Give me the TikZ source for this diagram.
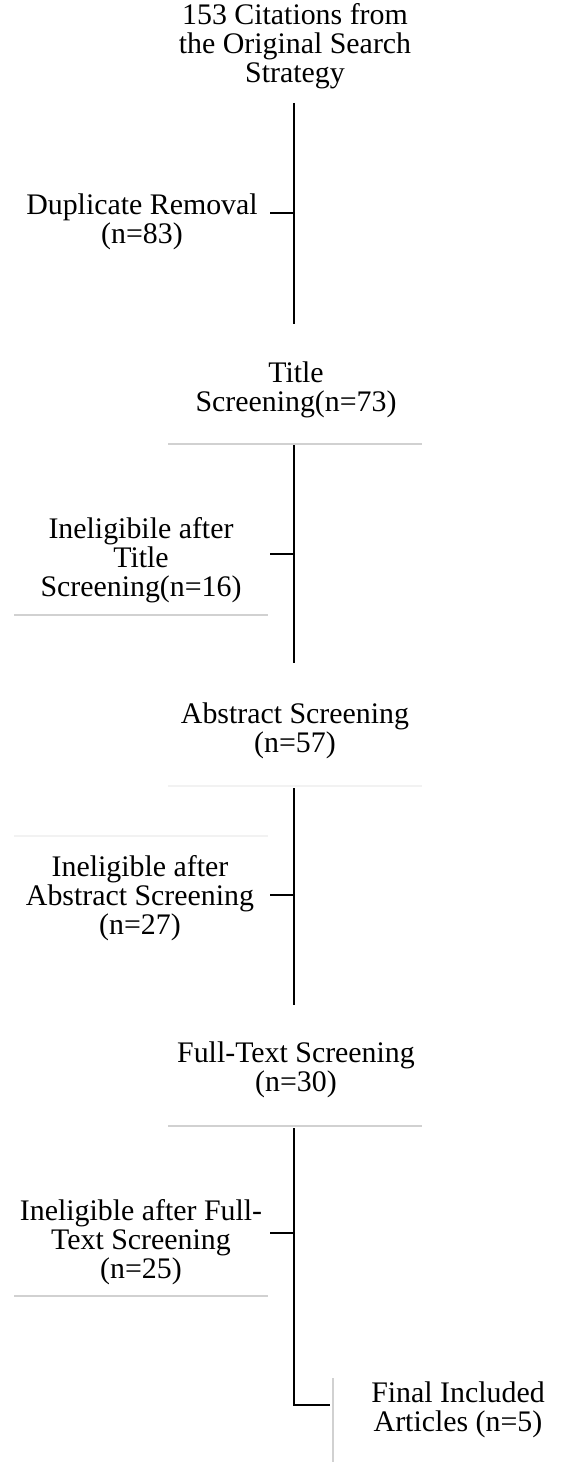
\documentclass[tikz,border=0pt]{standalone}
\usepackage{fontspec}
\setmainfont{Liberation Serif}
\begin{document}
\begin{tikzpicture}[x=0.02cm,y=-0.02cm,
  etape/.style={align=center,font=\fontsize{17}{16.4}\selectfont,inner sep=0pt},
  tronc/.style={line width=1.2pt},
  filet/.style={draw=black!18,line width=0.8pt},
  pale/.style={draw=black!5,line width=0.8pt}]

\useasboundingbox
(0,0)
rectangle
(573,1462);

% Etapes
\node[etape] (depart)
at (295,46)
{153 Citations from\\the Original Search\\Strategy};

\node[etape] (doublons)
at (142,222)
{Duplicate Removal\\(n=83)};

\node[etape] (titre)
at (296,390)
{Title\\Screening(n=73)};

\node[etape] (exclu1)
at (141,560)
{Ineligibile after\\Title\\Screening(n=16)};

\node[etape] (resume)
at (295,731)
{Abstract Screening\\(n=57)};

\node[etape] (exclu2)
at (140,898)
{Ineligible after\\Abstract Screening\\(n=27)};

\node[etape] (texte)
at (296,1070)
{Full-Text Screening\\(n=30)};

\node[etape] (exclu3)
at (141,1242)
{Ineligible after Full-\\Text Screening\\(n=25)};

\node[etape] (final)
at (458,1410)
{Final Included\\Articles (n=5)};

% Points du tronc
\coordinate (h1) at (294,103);
\coordinate (b1) at (294,324);
\coordinate (h2) at (294,445);
\coordinate (b2) at (294,663);
\coordinate (h3) at (294,788);
\coordinate (b3) at (294,1005);
\coordinate (h4) at (294,1128);
\coordinate (b4) at (294,1405);
\coordinate (fin) at (330,1405);

\coordinate (e1) at (294,213);
\coordinate (g1) at (270,213);
\coordinate (e2) at (294,554);
\coordinate (g2) at (270,554);
\coordinate (e3) at (294,895);
\coordinate (g3) at (270,895);
\coordinate (e4) at (294,1233);
\coordinate (g4) at (270,1233);

% Tronc
\draw[tronc]
(h1)
--
(b1);

\draw[tronc]
(h2)
--
(b2);

\draw[tronc]
(h3)
--
(b3);

\draw[tronc]
(h4)
--
(b4)
--
(fin);

% Branches
\draw[tronc] (e1) -- (g1);
\draw[tronc] (e2) -- (g2);
\draw[tronc] (e3) -- (g3);
\draw[tronc] (e4) -- (g4);

% Filets gris
\draw[filet] (168,444) -- (422,444);
\draw[filet] (14,615) -- (268,615);
\draw[pale] (168,786) -- (422,786);
\draw[pale] (14,836) -- (268,836);
\draw[filet] (168,1126) -- (422,1126);
\draw[filet] (14,1296) -- (268,1296);
\draw[filet] (333,1378) -- (333,1462);

\end{tikzpicture}
\end{document}
